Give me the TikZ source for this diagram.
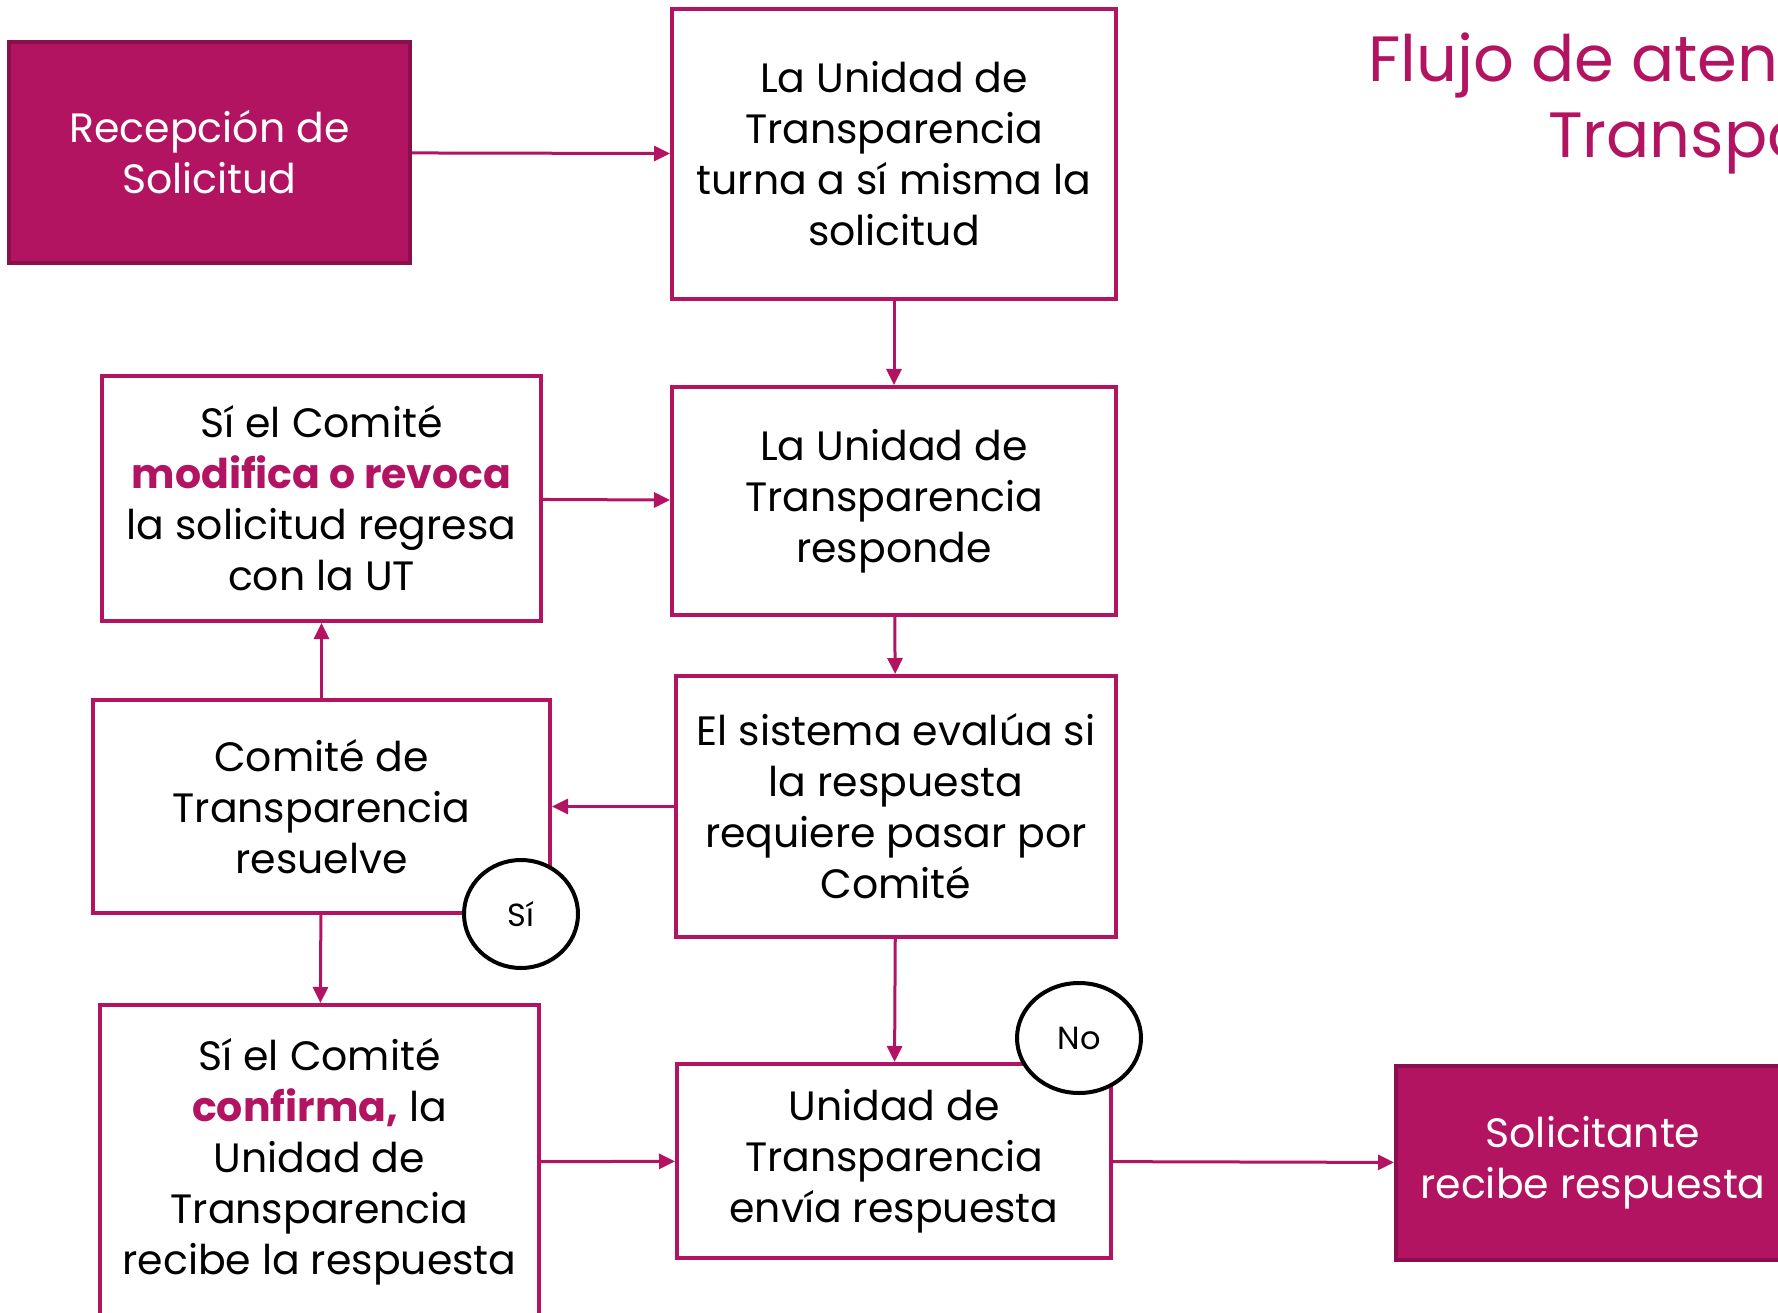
\documentclass[tikz,border=0pt]{standalone}
\usepackage{fontspec}
\setmainfont{Poppins}
\usetikzlibrary{arrows.meta,shapes.geometric}
\definecolor{vino}{HTML}{B21462}
\definecolor{vinoosc}{HTML}{8C0F4D}

\begin{document}
\begin{tikzpicture}[x=1pt,y=-1pt,
    caja/.style={draw=vino,line width=4pt,fill=white,inner sep=0pt,align=center,
        font=\fontsize{41}{51}\selectfont},
    llena/.style={caja,draw=vinoosc,fill=vino,text=white},
    resp/.style={draw=black,line width=4pt,fill=white,ellipse,inner sep=0pt,
        font=\fontsize{32}{38}\selectfont},
    flecha/.style={draw=vino,line width=3pt,-{Triangle[length=16pt,width=15pt]}},
    titulo/.style={text=vino,anchor=base west,inner sep=0pt,font=\fontsize{64}{77}\selectfont}]
\useasboundingbox (0,0) rectangle (1778,1313);
\clip (0,0) rectangle (1778,1313);
\node[llena,minimum width=401pt,minimum height=221pt] (recep) at (209.5,152.5) {Recepción de\\Solicitud};
\node[caja,minimum width=444pt,minimum height=290pt] (turna) at (894,154) {La Unidad de\\Transparencia\\turna a sí misma la\\solicitud};
\node[caja,minimum width=444pt,minimum height=228pt] (responde) at (894,501) {La Unidad de\\Transparencia\\responde};
\node[caja,minimum width=439pt,minimum height=245pt] (modifica) at (321.5,498.5) {Sí el Comité\\{\bfseries\color{vino}modifica o revoca}\\la solicitud regresa\\con la UT};
\node[caja,minimum width=457pt,minimum height=213pt] (comite) at (321.5,806.5) {Comité de\\Transparencia\\resuelve};
\node[caja,minimum width=440pt,minimum height=261pt] (sistema) at (896,806.5) {El sistema evalúa si\\la respuesta\\requiere pasar por\\Comité};
\node[caja,minimum width=439pt,minimum height=314pt] (confirma) at (319.5,1162) {Sí el Comité\\{\bfseries\color{vino}confirma,} la\\Unidad de\\Transparencia\\recibe la respuesta};
\node[caja,minimum width=434pt,minimum height=194pt] (envia) at (894,1161) {Unidad de\\Transparencia\\envía respuesta};
\node[llena,minimum width=394pt,minimum height=194pt] (solic) at (1593,1163) {Solicitante\\recibe respuesta};

\draw[flecha] (recep) -- (turna);
\draw[flecha] (turna) -- (responde);
\draw[flecha] (modifica) -- (responde);
\draw[flecha] (responde) -- (sistema);
\draw[flecha] (sistema) -- (comite);
\draw[flecha] (comite) -- (modifica);
\draw[flecha] (comite) -- (confirma);
\draw[flecha] (sistema) -- (envia);
\draw[flecha] (confirma) -- (envia);
\draw[flecha] (envia) -- (solic);

\node[resp,minimum width=114pt,minimum height=108pt] (si) at (521,914) {Sí};
\node[resp,minimum width=124pt,minimum height=110pt] (no) at (1079,1038) {No};

\node[titulo] (tit1) at (1368,82) {Flujo de atención};
\node[titulo] (tit2) at (1548,158) {Transparencia};
\end{tikzpicture}
\end{document}
